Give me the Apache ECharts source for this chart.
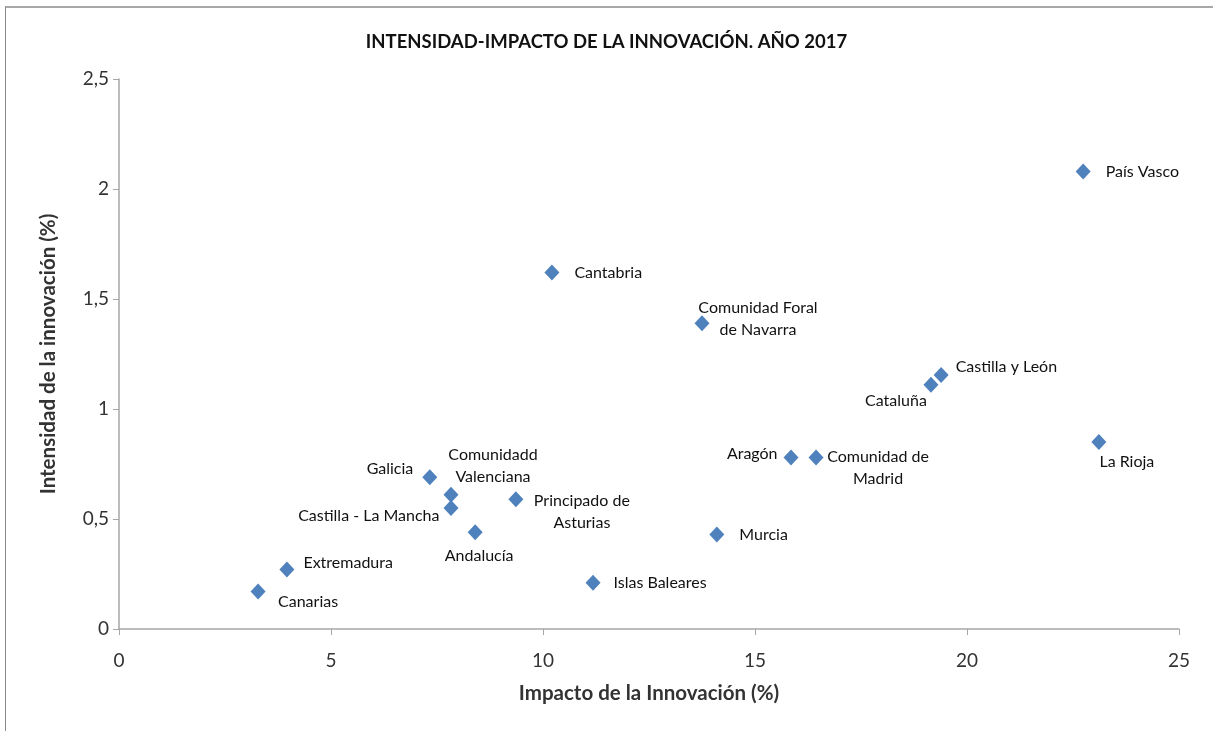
<!DOCTYPE html>
<html>
<head>
<meta charset="utf-8">
<script src="https://cdn.jsdelivr.net/npm/echarts@6/dist/echarts.min.js"></script>
<style>
	html, body { margin: 0; padding: 0; background: #ffffff; overflow: hidden; }
	#chart { width: 1213px; height: 731px; position: relative; }
	#frame { position: absolute; left: 5px; top: 6px; width: 1300px; height: 800px;
		border-top: 2px solid #a8a8a8; border-left: 1px solid #8c8c8c; pointer-events: none; }
</style>
</head>
<body>
<div id="chart"></div>
<div id="frame"></div>
<script>
	var regiones = ['País Vasco', 'Cantabria', 'Comunidad Foral\nde Navarra', 'Castilla y León', 'Cataluña',
		'La Rioja', 'Aragón', 'Comunidad de\nMadrid', 'Galicia', 'Comunidadd\nValenciana',
		'Principado de\nAsturias', 'Castilla - La Mancha', 'Andalucía', 'Murcia', 'Islas Baleares',
		'Extremadura', 'Canarias'];
	var impacto = [22.74, 10.21, 13.75, 19.39, 19.15, 23.11, 15.85, 16.44, 7.33, 7.83, 9.36, 7.83, 8.40, 14.10, 11.18, 3.96, 3.28];
	var intensidad = [2.08, 1.62, 1.39, 1.155, 1.11, 0.85, 0.78, 0.78, 0.69, 0.61, 0.59, 0.55, 0.44, 0.43, 0.21, 0.27, 0.17];

	var font = 'Lato';
	var axis_color = '#a6a6a6';
	var text_color = '#333333';

	// where each label sits around its marker
	var etiquetas = {
		'País Vasco': { position: 'right', distance: 15 },
		'Cantabria': { position: 'right', distance: 15 },
		'Comunidad Foral\nde Navarra': { position: 'inside', offset: [56, -4] },
		'Castilla y León': { position: 'right', distance: 7, offset: [0, -8] },
		'Cataluña': { position: 'inside', offset: [-35, 16] },
		'La Rioja': { position: 'inside', offset: [28, 20] },
		'Aragón': { position: 'left', distance: 6, offset: [0, -4] },
		'Comunidad de\nMadrid': { position: 'inside', offset: [62, 10] },
		'Galicia': { position: 'left', distance: 9, offset: [0, -8] },
		'Comunidadd\nValenciana': { position: 'inside', offset: [42, -29] },
		'Principado de\nAsturias': { position: 'inside', offset: [66, 13] },
		'Castilla - La Mancha': { position: 'left', distance: 4, offset: [0, 8] },
		'Andalucía': { position: 'inside', offset: [4, 24] },
		'Murcia': { position: 'right', distance: 15 },
		'Islas Baleares': { position: 'right', distance: 13 },
		'Extremadura': { position: 'right', distance: 9, offset: [0, -7] },
		'Canarias': { position: 'inside', offset: [50, 10] }
	};

	var puntos = regiones.map(function (r, i) {
		return { name: r, value: [impacto[i], intensidad[i]], label: etiquetas[r] };
	});
	// right/left labels should not be centered
	puntos.forEach(function (p) {
		if (p.label.position === 'right') p.label.align = 'left';
		if (p.label.position === 'left') p.label.align = 'right';
	});

	var chart = echarts.init(document.getElementById('chart'));
	var options = {
		animation: false,
		title: {
			text: 'INTENSIDAD-IMPACTO DE LA INNOVACIÓN. AÑO 2017',
			left: 'center',
			top: 28,
			textStyle: {
				fontFamily: font,
				fontWeight: 'bold',
				fontSize: 18.5,
				color: '#111111'
			}
		},
		grid: {
			left: 119,
			right: 34,
			top: 79,
			bottom: 102
		},
		xAxis: {
			type: 'value',
			min: 0,
			max: 25,
			interval: 5,
			name: 'Impacto de la Innovación (%)',
			nameLocation: 'middle',
			nameGap: 54,
			nameTextStyle: { fontFamily: font, fontWeight: 'bold', fontSize: 20.5, color: text_color },
			axisLine: { show: true, lineStyle: { color: axis_color, width: 1.5 } },
			axisTick: { show: true, length: 6, lineStyle: { color: axis_color } },
			axisLabel: { fontFamily: font, fontSize: 19, color: text_color, margin: 22 },
			splitLine: { show: false }
		},
		yAxis: {
			type: 'value',
			min: 0,
			max: 2.5,
			interval: 0.5,
			name: 'Intensidad de la innovación (%)',
			nameLocation: 'middle',
			nameRotate: 90,
			nameGap: 60,
			nameTextStyle: { fontFamily: font, fontWeight: 'bold', fontSize: 20.5, color: text_color },
			axisLine: { show: true, lineStyle: { color: axis_color, width: 1.5 } },
			axisTick: { show: true, length: 6, lineStyle: { color: axis_color } },
			axisLabel: {
				fontFamily: font, fontSize: 19, color: text_color, margin: 10,
				formatter: function (v) { return v.toString().replace('.', ','); }
			},
			splitLine: { show: false }
		},
		series: [{
			type: 'scatter',
			symbol: 'diamond',
			symbolSize: [15, 16],
			itemStyle: { color: '#4f81bd', opacity: 1 },
			label: {
				show: true,
				formatter: '{b}',
				fontFamily: font,
				fontSize: 16,
				lineHeight: 22,
				align: 'center',
				color: '#111111'
			},
			data: puntos
		}]
	};
	chart.setOption(options, true);
</script>
</body>
</html>
